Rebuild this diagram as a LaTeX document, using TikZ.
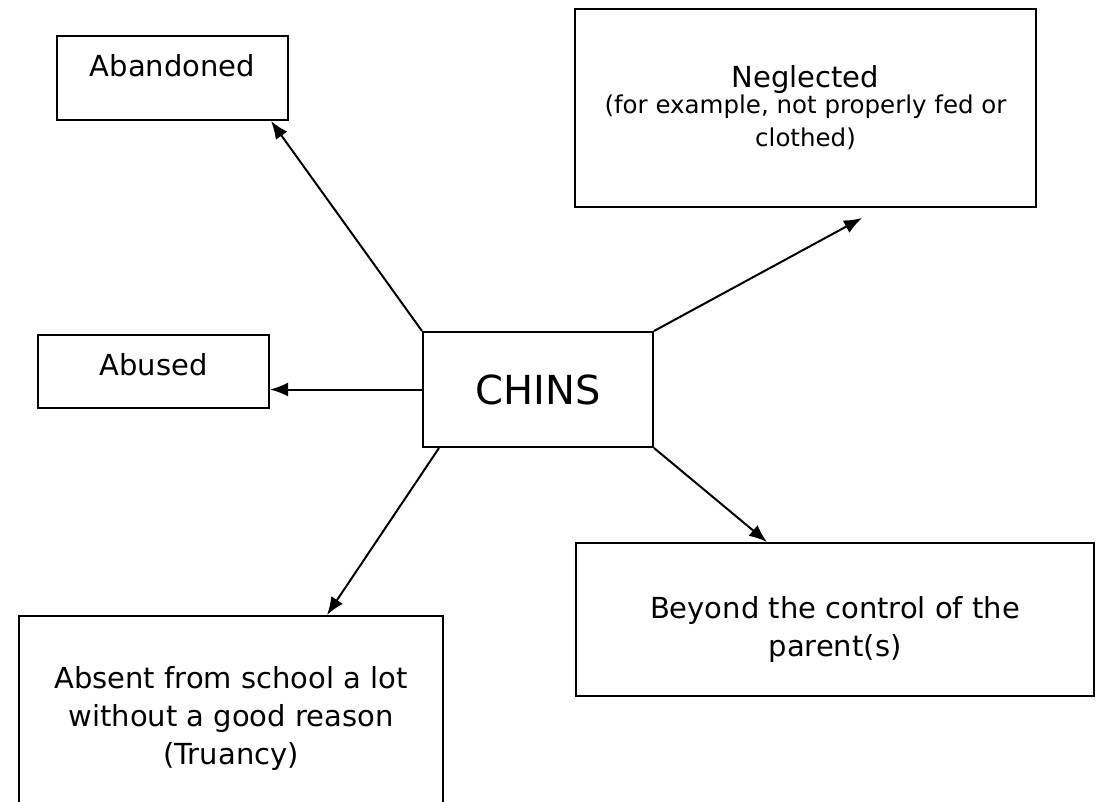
\documentclass[tikz,border=0pt]{standalone}
\usepackage{fontspec}
\setmainfont{DejaVu Sans}
\usepackage{tikz}
\usetikzlibrary{arrows.meta}

\tikzset{
	box/.style={draw=black, line width=2pt, inner sep=0pt, align=center, font=\fontsize{29}{38}\selectfont},
	link/.style={line width=2pt, -{Latex[length=18pt,width=14pt]}}
}

\begin{document}
\begin{tikzpicture}[x=1pt, y=-1pt]
		\clip (0,0) rectangle (1102,801);
		\fill[white] (0,0) rectangle (1102,801);

		\node[box, minimum width=230pt, minimum height=115pt, font=\fontsize{40}{48}\selectfont] (chins) at (538,389.5) {CHINS};
		\node[box, minimum width=231pt, minimum height=84pt, text depth=26pt] (abandoned) at (172.5,78) {Abandoned};
		\node[box, minimum width=461pt, minimum height=198pt, font=\fontsize{24.5}{33}\selectfont] (neglected) at (805.5,108) {{\fontsize{29}{35}\selectfont Neglected}\\[-7pt](for example, not properly fed or\\clothed)};
		\node[box, minimum width=231pt, minimum height=73pt, text depth=15pt] (abused) at (153.5,371.5) {Abused};
		\node[box, minimum width=518pt, minimum height=153pt] (beyond) at (835,619.5) {\rule{0pt}{42pt}Beyond the control of the\\parent(s)};
		\node[box, minimum width=424pt, minimum height=204pt] (absent) at (231,718) {Absent from school a lot\\without a good reason\\(Truancy)};

		\draw[link] (chins.north west) -- ([xshift=-18pt]abandoned.south east);
		\draw[link] (chins.north east) -- ([xshift=56.5pt,yshift=-10pt]neglected.south);
		\draw[link] (chins.west) -- (chins.west -| abused.east);
		\draw[link] (chins.south east) -- ([xshift=-68pt]beyond.north);
		\draw[link] ([xshift=17pt]chins.south west) -- ([xshift=96pt]absent.north);
	\end{tikzpicture}
\end{document}
